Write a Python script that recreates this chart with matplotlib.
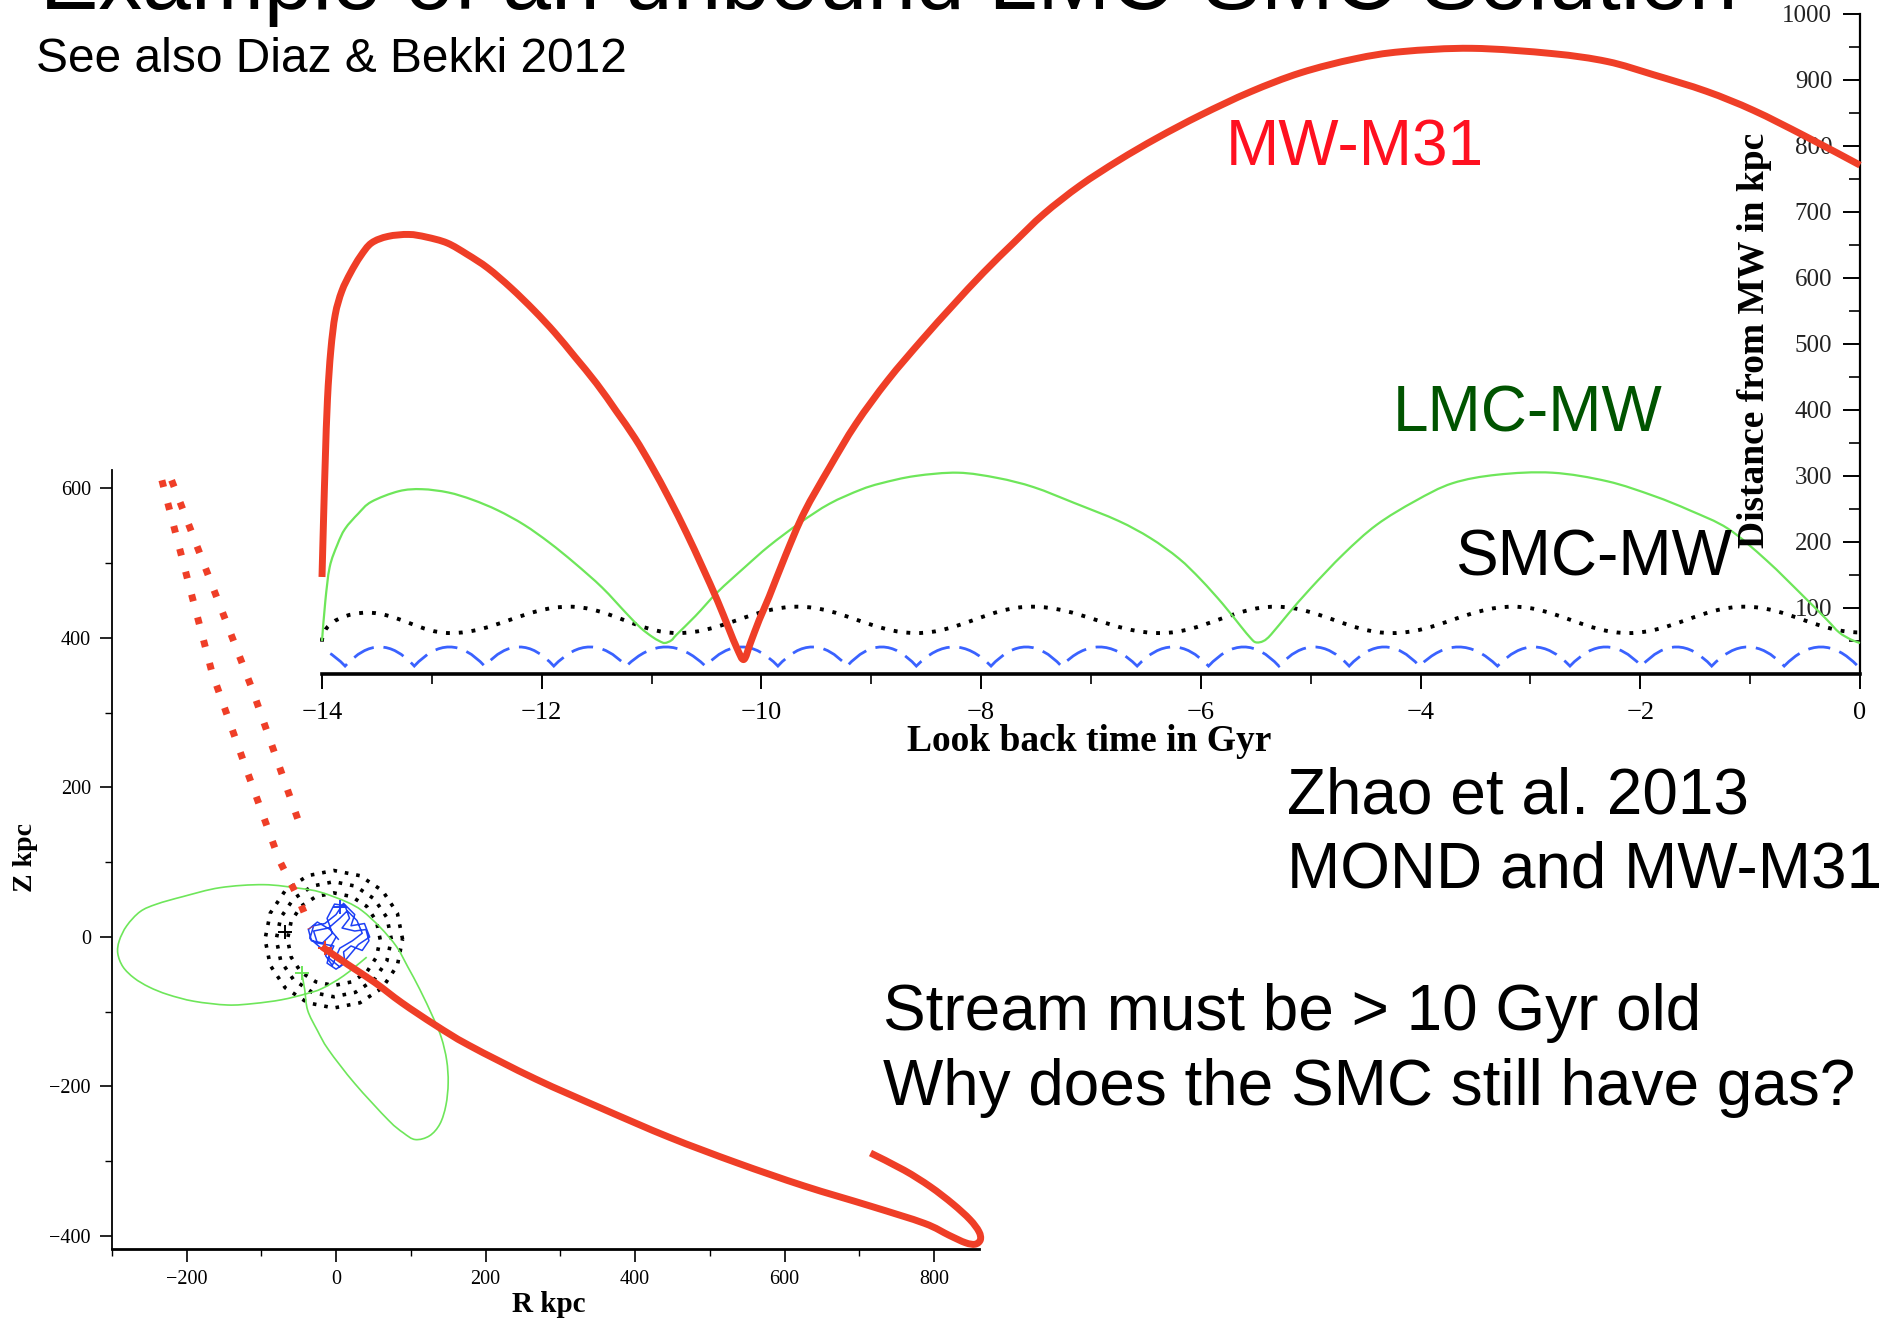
import matplotlib
matplotlib.use('Agg')
import matplotlib.pyplot as plt
from matplotlib.path import Path
from matplotlib.patches import PathPatch
from matplotlib.ticker import MultipleLocator

W, H = 1889, 1319
SANS = ['Liberation Sans', 'DejaVu Sans']
SERIF = ['Liberation Serif', 'DejaVu Serif']

# ---------------- data: distance vs look-back time ----------------
mw_m31_t = [-14.0, -13.985, -13.97, -13.95, -13.92, -13.88, -13.82, -13.74, -13.65, -13.55,
            -13.40, -13.21, -13.05, -12.86, -12.68, -12.49, -12.28, -12.07, -11.88, -11.70,
            -11.50, -11.32, -11.15, -11.0, -10.84, -10.68, -10.54, -10.40, -10.30, -10.22,
            -10.16, -10.10, -10.02, -9.93, -9.78, -9.61, -9.38, -9.14,
            -8.85, -8.54, -8.26, -7.98, -7.70, -7.43, -7.10, -6.75, -6.40, -6.0,
            -5.55, -5.09, -4.60, -4.17, -3.53, -2.80, -2.30, -1.88, -1.40, -0.97, -0.50, 0.0]
mw_m31_d = [147, 240, 325, 417, 490, 544, 580, 608, 633, 653,
            663, 666, 662, 653, 636, 615, 585, 551, 517, 481,
            440, 398, 357, 315, 266, 213, 163, 111, 70, 38,
            22, 47, 82, 117, 180, 245, 313, 379,
            445, 506, 558, 608, 654, 697, 740, 778, 812, 847,
            882, 911, 932, 943, 948, 940, 928, 908, 883, 854, 815, 771]

lmc_mw_t = [-14.0, -13.97, -13.93, -13.86, -13.79, -13.67, -13.55, -13.3, -13.09, -12.85,
            -12.63, -12.4, -12.16, -11.93, -11.70, -11.45, -11.23, -11.10, -11.0, -10.93,
            -10.88, -10.82, -10.77, -10.6, -10.40, -10.15, -9.93, -9.65, -9.38, -9.1,
            -8.91, -8.6, -8.21, -7.85, -7.52, -7.15, -6.75, -6.46, -6.2, -6.0,
            -5.8, -5.64, -5.55, -5.50, -5.43, -5.36, -5.2, -5.0, -4.7, -4.40,
            -4.05, -3.71, -3.3, -2.80, -2.3, -1.88, -1.55, -1.20, -0.85, -0.51,
            -0.3, -0.19, -0.08, 0.0]
lmc_mw_d = [50, 110, 162, 196, 220, 243, 261, 277, 280, 275,
            264, 248, 226, 199, 168, 131, 92, 70, 57, 50,
            47, 51, 60, 88, 124, 162, 194, 229, 258, 279,
            289, 300, 305, 297, 283, 259, 232, 206, 175, 143,
            106, 73, 55, 48, 50, 60, 92, 130, 182, 226,
            262, 289, 302, 305, 292, 270, 248, 220, 172, 117,
            82, 63, 52, 47]

# SMC-MW: start, then alternating peaks and troughs
smc_mw_t = [-14.0, -13.59, -12.83, -11.75, -10.76, -9.67, -8.59, -7.54, -6.37, -5.32,
            -4.26, -3.16, -2.11, -1.05, 0.0]
smc_mw_d = [49, 93, 62, 102, 62, 102, 62, 102, 62, 102, 62, 102, 62, 102, 63]

# LMC-SMC: times of the cusps (first one lies before the axis) and arch heights
lmc_smc_cusp_t = [-14.44, -13.79, -13.16, -12.52, -11.89, -11.23, -10.51, -9.85, -9.22, -8.59,
                  -7.91, -7.27, -6.58, -5.93, -5.29, -4.65, -4.01, -3.30, -2.64, -1.99,
                  -1.35, -0.69, -0.02]
lmc_smc_cusp_d = 12
lmc_smc_top_d = 41

# ---------------- data: orbits in the R-Z plane ----------------
m31_R = [-19, 16, 52, 88, 133, 178, 267, 357, 446, 536, 626, 715, 787, 820, 842,
         855, 862, 860, 848, 825, 795, 760, 715]
m31_Z = [-13, -37, -61, -88, -118, -145, -190, -230, -268, -302, -333, -360, -383, -399, -409,
         -411, -405, -394, -378, -357, -334, -312, -289]

dot_a_R = [-233, -199, -166, -122, -76, -52, -34]
dot_a_Z = [611, 480, 354, 230, 103, 55, 12]
dot_b_R = [-220, -112, -46]
dot_b_Z = [611, 331, 143]

lmc_R = [-46, -42, -38, -25, -10, 25, 70, 90, 106, 125, 139, 147, 150, 148, 141, 130, 112,
         96, 81, 59, 35, 14, -21, -48, -97, -155, -205, -240, -262, -280, -290, -292, -285,
         -270, -250, -225, -190, -145, -110, -73, -40, -19, 10, 41]
lmc_Z = [-48, -70, -98, -125, -151, -196, -245, -262, -271, -266, -250, -225, -195, -165, -135, -108, -70,
         -40, -13, 13, 35, 47, 60, 65, 70, 66, 54, 44, 34, 15, -5, -22, -40,
         -55, -67, -77, -86, -91, -89, -84, -76, -69, -52, -27]

smc_ring1_R = [89, 82, 62, 32, -3, -38, -68, -88, -95, -88, -68, -38, -3, 32, 62, 82, 89]
smc_ring1_Z = [-3, 32, 62, 82, 89, 82, 62, 32, -3, -38, -68, -88, -95, -88, -68, -38, -3]
smc_ring2_R = [74, 68, 51, 26, -3, -32, -57, -74, -80, -74, -57, -32, -3, 26, 51, 68, 74]
smc_ring2_Z = [-3, 26, 51, 68, 74, 68, 51, 26, -3, -32, -57, -74, -80, -74, -57, -32, -3]
smc_ring3_R = [59, 54, 41, 21, -3, -27, -47, -60, -65, -60, -47, -27, -3, 21, 41, 54, 59]
smc_ring3_Z = [-3, 21, 41, 54, 59, 54, 41, 21, -3, -27, -47, -60, -65, -60, -47, -27, -3]

rel_R = [3, -8, -25, -37, -33, -18, -5, -12, -2, 12, 18, 8, 25, 40, 44, 35, 20, 10, 12, 0,
         -12, -8, -20, -35, -30, -15, 0, 10, 25, 20, 38, 45, 30, 15, 5, -10, -3, -25, -30, -10,
         5, 15, 28, 35, 22, 5, -5, -14, 0]
rel_Z = [-3, 10, 20, 10, -5, -8, 5, 25, 44, 42, 25, 12, 8, 10, -5, -18, -12, -20, -35, -43,
         -35, -20, -15, -2, 15, 18, 30, 45, 30, 15, 18, 0, -10, -28, -40, -28, -12, -8, 8, 12,
         25, 35, 22, 5, -5, -15, -38, -25, 0]

now_black = (-68, 7)
now_blue = (5, 40)
now_green = (-46, -48)
now_red = (-15, -15)

RED = '#ef3e27'
GREEN = '#6ee65a'
BLUE = '#3a62ff'
BLUE2 = '#1e40f5'

fig = plt.figure(figsize=(W / 100, H / 100), dpi=100)


def fx(x):
    return x / W


def fy(y):
    return 1 - y / H


def smooth_path(xs, ys):
    """Smooth curve through the given points (Catmull-Rom drawn as Bezier segments)."""
    pts = list(zip(xs, ys))
    n = len(pts)
    verts = [pts[0]]
    codes = [Path.MOVETO]
    for i in range(n - 1):
        p0 = pts[i - 1] if i > 0 else pts[i]
        p1 = pts[i]
        p2 = pts[i + 1]
        p3 = pts[i + 2] if i + 2 < n else pts[i + 1]
        c1 = (p1[0] + (p2[0] - p0[0]) / 6, p1[1] + (p2[1] - p0[1]) / 6)
        c2 = (p2[0] - (p3[0] - p1[0]) / 6, p2[1] - (p3[1] - p1[1]) / 6)
        verts += [c1, c2, p2]
        codes += [Path.CURVE4] * 3
    return Path(verts, codes)


# ---------------- lower-left orbit panel ----------------
ax2 = fig.add_axes([fx(111.8), fy(1248.7), (978.9 - 111.8) / W, (1248.7 - 469.8) / H])
ax2.set_facecolor('none')
ax2.set_xlim(-300, 860)
ax2.set_ylim(-417, 625)
for s in ['top', 'right']:
    ax2.spines[s].set_visible(False)
ax2.spines['left'].set_linewidth(1.3)
ax2.spines['bottom'].set_linewidth(2.0)
ax2.xaxis.set_major_locator(MultipleLocator(200))
ax2.xaxis.set_minor_locator(MultipleLocator(100))
ax2.yaxis.set_major_locator(MultipleLocator(200))
ax2.yaxis.set_minor_locator(MultipleLocator(100))
ax2.tick_params(which='major', direction='out', length=9, width=1.2, labelsize=14.5, pad=6)
ax2.tick_params(which='minor', direction='out', length=5, width=1.0)
for lab in ax2.get_xticklabels() + ax2.get_yticklabels():
    lab.set_family(SERIF)

for rr, zz in [(smc_ring1_R, smc_ring1_Z), (smc_ring2_R, smc_ring2_Z), (smc_ring3_R, smc_ring3_Z)]:
    ax2.plot(rr, zz, color='black', lw=2.6, ls=(0, (1, 2.2)), dash_capstyle='butt', zorder=2)
ax2.add_patch(PathPatch(smooth_path(lmc_R, lmc_Z), fill=False, ec=GREEN, lw=1.2, zorder=3))
ax2.plot(rel_R, rel_Z, color=BLUE2, lw=1.1, zorder=4)
ax2.plot(dot_a_R, dot_a_Z, color=RED, lw=5, ls=(0, (1, 2.4)), dash_capstyle='butt', zorder=5)
ax2.plot(dot_b_R, dot_b_Z, color=RED, lw=5, ls=(0, (1, 2.4)), dash_capstyle='butt', zorder=5)
ax2.add_patch(PathPatch(smooth_path(m31_R, m31_Z), fill=False, ec=RED, lw=5,
                        capstyle='butt', joinstyle='round', clip_on=False, zorder=6))
ax2.plot(*now_black, marker='+', color='black', ms=10, mew=1.4, zorder=7)
ax2.plot(*now_blue, marker='+', color=BLUE2, ms=10, mew=1.4, zorder=7)
ax2.plot(*now_green, marker='+', color=GREEN, ms=10, mew=1.4, zorder=7)
ax2.plot(*now_red, marker='+', color=RED, ms=10, mew=1.4, zorder=7)

fig.text(fx(549), fy(1312), 'R kpc', family=SERIF, weight='bold', fontsize=21,
         ha='center', va='baseline')
fig.text(fx(25), fy(857), 'Z kpc', family=SERIF, weight='bold', fontsize=20,
         ha='center', va='center', rotation=90)

# ---------------- upper distance-time panel ----------------
ax1 = fig.add_axes([fx(322), fy(674), (1860 - 322) / W, (674 - 14) / H])
ax1.set_facecolor('none')
ax1.set_xlim(-14, 0)
ax1.set_ylim(0, 1000)
for s in ['top', 'right']:
    ax1.spines[s].set_visible(False)
ax1.spines['left'].set_position(('data', 0))
ax1.spines['left'].set_linewidth(1.6)
ax1.spines['bottom'].set_linewidth(2.6)
ax1.xaxis.set_major_locator(MultipleLocator(2))
ax1.xaxis.set_minor_locator(MultipleLocator(1))
ax1.set_yticks(list(range(100, 1001, 100)))
ax1.yaxis.set_minor_locator(MultipleLocator(50))
ax1.tick_params(axis='x', which='major', direction='out', length=11, width=1.4, labelsize=19, pad=9)
ax1.tick_params(axis='x', which='minor', direction='out', length=7, width=1.2)
ax1.tick_params(axis='y', which='major', direction='out', length=12, width=1.4, labelsize=18,
                pad=8, labelcolor='#222222')
ax1.tick_params(axis='y', which='minor', direction='out', length=8, width=1.2)
for lab in ax1.get_xticklabels() + ax1.get_yticklabels():
    lab.set_family(SERIF)

# LMC-SMC scallops (quadratic arches between cusps)
verts = [(lmc_smc_cusp_t[0], lmc_smc_cusp_d)]
codes = [Path.MOVETO]
for a, b in zip(lmc_smc_cusp_t[:-1], lmc_smc_cusp_t[1:]):
    verts += [((a + b) / 2, 2 * lmc_smc_top_d - lmc_smc_cusp_d), (b, lmc_smc_cusp_d)]
    codes += [Path.CURVE3, Path.CURVE3]
ax1.add_patch(PathPatch(Path(verts, codes), fill=False, ec=BLUE, lw=2.0,
                        ls=(0, (8, 3.5)), zorder=2))

# SMC-MW smooth oscillation through its extrema
verts = [(smc_mw_t[0], smc_mw_d[0])]
codes = [Path.MOVETO]
for i in range(len(smc_mw_t) - 1):
    t0, d0, t1, d1 = smc_mw_t[i], smc_mw_d[i], smc_mw_t[i + 1], smc_mw_d[i + 1]
    dt = t1 - t0
    c1 = (t0, d0 + 0.75 * (d1 - d0)) if i == 0 else (t0 + 0.364 * dt, d0)
    c2 = (t1 - 0.364 * dt, d1)
    verts += [c1, c2, (t1, d1)]
    codes += [Path.CURVE4] * 3
ax1.add_patch(PathPatch(Path(verts, codes), fill=False, ec='black', lw=2.8,
                        ls=(0, (1, 2.3)), zorder=3, clip_on=False))

ax1.add_patch(PathPatch(smooth_path(lmc_mw_t, lmc_mw_d), fill=False, ec=GREEN, lw=1.6,
                        zorder=4, clip_on=False))
ax1.add_patch(PathPatch(smooth_path(mw_m31_t, mw_m31_d), fill=False, ec=RED, lw=5,
                        capstyle='butt', joinstyle='round', zorder=5, clip_on=False))

fig.text(fx(1089), fy(751), 'Look back time in Gyr', family=SERIF, weight='bold', fontsize=27,
         ha='center', va='baseline')
fig.text(fx(1755), fy(340), 'Distance from MW in kpc', family=SERIF, weight='bold', fontsize=27,
         ha='center', va='center', rotation=90)

# ---------------- slide text ----------------
fig.text(fx(40), fy(9), 'Example of an unbound LMC-SMC Solution', family=SANS, fontsize=63,
         ha='left', va='baseline')
fig.text(fx(36), fy(72), 'See also Diaz & Bekki 2012', family=SANS, fontsize=34.5,
         ha='left', va='baseline')
fig.text(fx(1226), fy(166), 'MW-M31', family=SANS, fontsize=46, color='#ff1020',
         ha='left', va='baseline')
fig.text(fx(1393), fy(432), 'LMC-MW', family=SANS, fontsize=46, color='#005400',
         ha='left', va='baseline')
fig.text(fx(1455), fy(575), 'SMC-MW', family=SANS, fontsize=46, color='black',
         ha='left', va='baseline')
fig.text(fx(1287), fy(813), 'Zhao et al. 2013', family=SANS, fontsize=46,
         ha='left', va='baseline')
fig.text(fx(1287), fy(888), 'MOND and MW-M31', family=SANS, fontsize=46,
         ha='left', va='baseline')
fig.text(fx(883), fy(1030), 'Stream must be > 10 Gyr old', family=SANS, fontsize=46,
         ha='left', va='baseline')
fig.text(fx(883), fy(1105), 'Why does the SMC still have gas?', family=SANS, fontsize=46,
         ha='left', va='baseline')

fig.savefig('out.png', dpi=100, facecolor='white')
